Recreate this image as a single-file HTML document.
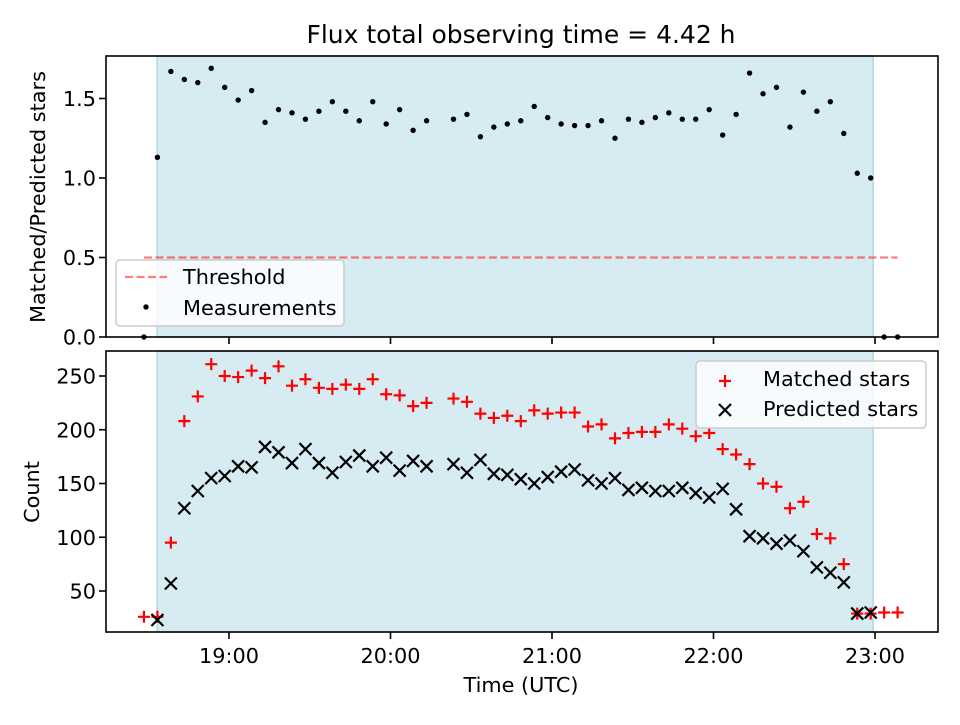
<!DOCTYPE html>
<html><head><meta charset="utf-8"><style>
body{margin:0;background:#fff;font-family:"Liberation Sans","DejaVu Sans",sans-serif}
svg text{font-family:"DejaVu Sans","Liberation Sans",sans-serif}
</style></head><body>
<svg id="c" width="960" height="720" viewBox="0 0 960 720" xmlns="http://www.w3.org/2000/svg"></svg>
<script>
const startMin = 28.4, stepMin = 5;
const ratio = [0,1.13,1.67,1.62,1.60,1.69,1.57,1.49,1.55,1.35,1.43,1.41,1.37,1.42,1.48,1.42,1.36,1.48,1.34,1.43,1.30,1.36,null,1.37,1.40,1.26,1.32,1.34,1.36,1.45,1.38,1.34,1.33,1.33,1.36,1.25,1.37,1.35,1.38,1.41,1.37,1.37,1.43,1.27,1.40,1.66,1.53,1.57,1.32,1.54,1.42,1.48,1.28,1.03,1.00,0,0];
const matched = [26,26,95,208,231,261,250,249,255,248,259,241,247,239,238,242,238,247,233,232,222,225,null,229,226,215,211,213,208,218,215,216,216,203,205,192,197,198,198,205,201,194,197,182,177,168,150,147,127,133,103,99,75,29,29,30,30];
const predicted = [null,23,57,127,143,155,157,166,165,184,179,169,182,169,160,170,176,166,174,162,171,166,null,168,160,172,159,158,154,150,156,161,163,153,150,155,144,146,143,143,146,141,137,145,126,101,99,94,97,87,72,67,58,29,30,null,null];
const threshold = 0.5;
const spanStart = 33.3, spanEnd = 299.3;
const xTicks = [60,120,180,240,300];
const xTickLabels = ["19:00","20:00","21:00","22:00","23:00"];
const topTicks = [0,0.5,1.0,1.5];
const botTicks = [50,100,150,200,250];

const NS="http://www.w3.org/2000/svg", svg=document.getElementById('c');
function el(t,a,p){const e=document.createElementNS(NS,t);for(const k in a)e.setAttribute(k,a[k]);(p||svg).appendChild(e);return e;}
const L=106,R=938, FS=20.8;
const X=m=>229+(m-60)*161.5/60;
const T={top:56,bot:337,y:v=>337-v*159};
const B={top:351,bot:632,y:v=>376+(250-v)*1.075};
const tm=i=>startMin+i*stepMin;

for(const P of [T,B]){
  const r=el('rect',{x:X(spanStart),y:P.top,width:X(spanEnd)-X(spanStart),height:P.bot-P.top,fill:'#add8e6','fill-opacity':0.5,stroke:'#add8e6','stroke-width':1.5});
  
  
}
const th=el('line',{x1:X(tm(0)),x2:X(tm(56)),y1:T.y(threshold),y2:T.y(threshold),stroke:'#ff0000','stroke-opacity':0.5,'stroke-width':2.2,'stroke-dasharray':'8,3.5'});


ratio.forEach((v,i)=>{if(v===null)return;
  const c=el('circle',{cx:X(tm(i)),cy:T.y(v),r:2.7,fill:'#000'});
  
  
});
function plus(x,y,g){el('path',{d:`M${x-6},${y}H${x+6}M${x},${y-6}V${y+6}`,stroke:'#ff0000','stroke-width':2.2},g);}
function cross(x,y,g){el('path',{d:`M${x-6},${y-6}L${x+6},${y+6}M${x-6},${y+6}L${x+6},${y-6}`,stroke:'#000','stroke-width':2.2},g);}
matched.forEach((v,i)=>{if(v===null)return;
  const g=el('g',{});
  
  
  plus(X(tm(i)),B.y(v),g);
});
predicted.forEach((v,i)=>{if(v===null)return;
  const g=el('g',{});
  
  
  cross(X(tm(i)),B.y(v),g);
});
for(const P of [T,B]){
  const f=el('rect',{x:L,y:P.top,width:R-L,height:P.bot-P.top,fill:'none',stroke:'#000','stroke-width':1.6});
  
  
  xTicks.forEach(m=>el('line',{x1:X(m),x2:X(m),y1:P.bot,y2:P.bot+7,stroke:'#000','stroke-width':1.6}));
}
xTicks.forEach((m,i)=>{
  const t=el('text',{x:X(m),y:663,'text-anchor':'middle','font-size':FS});t.textContent=xTickLabels[i];
  
  
});
topTicks.forEach(v=>{
  el('line',{x1:L-7,x2:L,y1:T.y(v),y2:T.y(v),stroke:'#000','stroke-width':1.6});
  const t=el('text',{x:L-10,y:T.y(v)+7.5,'text-anchor':'end','font-size':FS});t.textContent=v.toFixed(1);
  
  
});
botTicks.forEach(v=>{
  el('line',{x1:L-7,x2:L,y1:B.y(v),y2:B.y(v),stroke:'#000','stroke-width':1.6});
  const t=el('text',{x:L-10,y:B.y(v)+7.5,'text-anchor':'end','font-size':FS});t.textContent=v;
  
  
});
</script>
<svg width="960" height="720" style="position:absolute;left:0;top:0" xmlns="http://www.w3.org/2000/svg">
<text x="521" y="43" text-anchor="middle" font-size="25">Flux total observing time = 4.42 h</text>
<text transform="translate(45,197) rotate(-90)" text-anchor="middle" font-size="20.8">Matched/Predicted stars</text>
<text transform="translate(39,492) rotate(-90)" text-anchor="middle" font-size="20.8">Count</text>
<text x="521" y="692" text-anchor="middle" font-size="20.8">Time (UTC)</text>
<g>
<rect x="116" y="260" width="228" height="66" rx="4" fill="#fff" fill-opacity="0.8" stroke="#ccc" stroke-width="1.5"/>
<line x1="125" x2="167" y1="277" y2="277" stroke="#ff0000" stroke-opacity="0.5" stroke-width="2.2" stroke-dasharray="8,3.5"/>
<text x="183" y="284" font-size="20.8">Threshold</text>
<circle cx="146" cy="307" r="2.7" fill="#000"/>
<text x="183" y="315" font-size="20.8">Measurements</text>
</g>
<g>
<rect x="696" y="361" width="230" height="67" rx="4" fill="#fff" fill-opacity="0.8" stroke="#ccc" stroke-width="1.5"/>
<path d="M719,381H731M725,375V387" stroke="#ff0000" stroke-width="2.2"/>
<text x="763" y="386" font-size="20.8">Matched stars</text>
<path d="M719,404L731,416M719,416L731,404" stroke="#000" stroke-width="2.2"/>
<text x="763" y="416" font-size="20.8">Predicted stars</text>
</g>
</svg>
</body></html>
